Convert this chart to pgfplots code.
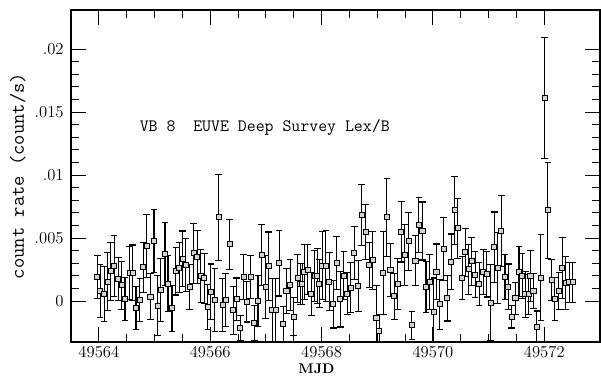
\documentclass[border=0pt]{standalone}
\usepackage{fontspec}
\usepackage{pgfplots}
\usepackage{pgfplotstable}
\pgfplotsset{compat=1.18}
\usetikzlibrary{calc}
% d = MJD - 49564 (days), rate (count/s), err
\pgfplotstableread{
d y e
-0.030 0.00194 0.0017
0.023 0.00082 0.0021
0.095 0.00056 0.0022
0.156 0.00153 0.0023
0.210 0.00238 0.0023
0.274 0.00278 0.0024
0.349 0.00175 0.0017
0.412 0.00125 0.0019
0.470 0.00016 0.0017
0.556 0.00220 0.0021
0.609 0.00225 0.0022
0.667 -0.00056 0.0017
0.738 0.00008 0.0017
0.797 0.00267 0.0020
0.860 0.00440 0.0025
0.927 0.00036 0.0018
0.991 0.00478 0.0025
1.057 -0.00037 0.0024
1.111 0.00086 0.0025
1.188 0.00377 0.0025
1.242 0.00139 0.0022
1.314 -0.00058 0.0018
1.384 0.00238 0.0019
1.443 0.00266 0.0020
1.505 0.00336 0.0022
1.563 0.00284 0.0021
1.631 0.00111 0.0018
1.703 0.00379 0.0024
1.769 0.00352 0.0021
1.833 0.00201 0.0021
1.894 0.00180 0.0020
1.959 -0.00048 0.0018
2.013 0.00074 0.0022
2.084 0.00008 0.0025
2.154 0.00664 0.0034
2.222 -0.00030 0.0021
2.276 0.00008 0.0021
2.348 0.00450 0.0020
2.414 -0.00074 0.0019
2.473 0.00013 0.0017
2.539 -0.00214 0.0010
2.599 0.00190 0.0018
2.658 -0.00006 0.0016
2.729 0.00193 0.0017
2.790 -0.00172 0.0014
2.858 0.00000 0.0020
2.921 0.00365 0.0024
2.993 0.00114 0.0025
3.052 0.00278 0.0027
3.113 -0.00071 0.0025
3.177 -0.00071 0.0025
3.238 0.00300 0.0026
3.310 -0.00183 0.0014
3.369 0.00082 0.0018
3.435 0.00127 0.0020
3.500 -0.00124 0.0015
3.572 0.00180 0.0019
3.620 0.00135 0.0016
3.651 0.00135 0.0016
3.692 0.00230 0.0022
3.751 0.00250 0.0020
3.817 0.00056 0.0017
3.876 0.00200 0.0020
3.925 0.00200 0.0022
3.961 0.00139 0.0019
4.009 0.00280 0.0027
4.077 0.00280 0.0028
4.140 0.00153 0.0023
4.208 -0.00024 0.0019
4.269 0.00304 0.0021
4.337 0.00014 0.0022
4.400 0.00200 0.0019
4.462 0.00060 0.0017
4.522 0.00106 0.0020
4.588 0.00379 0.0021
4.659 0.00119 0.0020
4.722 0.00683 0.0024
4.794 0.00550 0.0022
4.853 0.00286 0.0018
4.916 0.00325 0.0023
4.986 -0.00137 0.0026
5.036 -0.00236 0.0013
5.108 0.00220 0.0033
5.174 0.00664 0.0031
5.237 0.00244 0.0021
5.305 0.00037 0.0018
5.364 0.00135 0.0020
5.430 0.00550 0.0024
5.489 0.00365 0.0024
5.561 0.00476 0.0023
5.622 -0.00192 0.0011
5.686 0.00320 0.0020
5.747 0.00602 0.0022
5.812 0.00556 0.0023
5.875 0.00111 0.0020
5.941 0.00153 0.0022
6.016 -0.00087 0.0027
6.063 0.00233 0.0022
6.125 -0.00026 0.0020
6.192 0.00413 0.0025
6.258 0.00022 0.0018
6.326 0.00312 0.0022
6.389 0.00722 0.0027
6.446 0.00577 0.0024
6.523 0.00183 0.0017
6.581 0.00387 0.0019
6.640 0.00252 0.0020
6.697 0.00315 0.0019
6.756 0.00210 0.0018
6.828 0.00135 0.0017
6.905 0.00230 0.0018
6.968 0.00212 0.0018
7.034 -0.00012 0.0030
7.102 0.00427 0.0028
7.163 0.00264 0.0028
7.226 0.00557 0.0028
7.294 0.00190 0.0018
7.351 0.00114 0.0018
7.416 -0.00124 0.0009
7.482 0.00021 0.0013
7.545 0.00234 0.0020
7.602 0.00198 0.0018
7.658 0.00053 0.0018
7.719 0.00053 0.0016
7.751 0.00198 0.0020
7.805 0.00082 0.0014
7.867 -0.00209 0.0013
7.939 0.00185 0.0034
8.005 0.01609 0.0048
8.065 0.00720 0.0038
8.133 0.00167 0.0016
8.190 0.00016 0.0017
8.262 0.00080 0.0015
8.324 0.00264 0.0024
8.384 0.00145 0.0021
8.446 0.00148 0.0016
8.509 0.00148 0.0016
}\lc
\begin{document}
\begin{tikzpicture}
\begin{axis}[
  name=ax,
  scale only axis,
  width=396.75pt, height=249pt,
  xmin=-0.5, xmax=9,
  ymin=-0.00325, ymax=0.0231,
  xtick={0,2,4,6,8},
  xticklabels={49564,49566,49568,49570,49572},
  minor x tick num=3,
  ytick={0,0.005,0.01,0.015,0.02},
  yticklabels={0,.005,.01,.015,.02},
  minor y tick num=4,
  scaled x ticks=false, scaled y ticks=false,
  tick align=inside,
  major tick length=11pt,
  minor tick length=6pt,
  every tick/.style={black, line width=0.8pt},
  axis line style={line width=0.9pt},
  tick label style={font=\fontsize{12.5}{14}\selectfont},
  xticklabel style={yshift=0pt},
  yticklabel style={xshift=-2pt},
  xlabel={\textbf{MJD}},
  xlabel style={at={(axis description cs:0.464,-0.066)}, anchor=north, inner sep=0pt, font=\fontsize{10.5}{12}\selectfont},
  ylabel={count rate (count/s)},
  ylabel style={at={(axis description cs:-0.1008,0.5)}, anchor=center, font=\ttfamily\fontsize{15}{17}\selectfont},
]
\addplot[black, line width=0.8pt, only marks, mark=square*,
  mark size=1.9pt, mark options={fill=gray!35, line width=0.7pt},
  error bars/.cd, y dir=both, y explicit,
  error bar style={line width=0.8pt},
  error mark options={rotate=90, mark size=2.5pt, line width=0.8pt}]
  table[x=d, y=y, y error=e]{\lc};
\node[anchor=west, font=\ttfamily\fontsize{13}{15}\selectfont] at (axis cs:0.65,0.0138) {VB 8\ \ EUVE Deep Survey Lex/B};
\end{axis}
\pgfresetboundingbox
\path ($(ax.south west)+(-53.25pt,-24.75pt)$) rectangle ($(ax.north east)+(0.75pt,7.5pt)$);
\end{tikzpicture}
\end{document}
